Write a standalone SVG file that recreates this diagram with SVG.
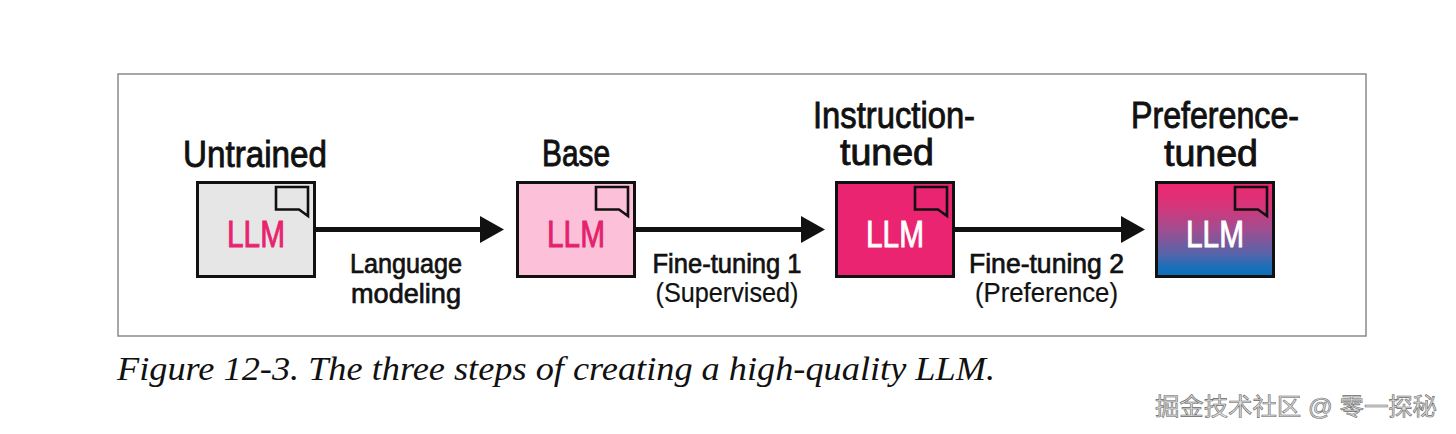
<svg xmlns="http://www.w3.org/2000/svg" width="1456" height="434" viewBox="0 0 1456 434">
  <style>
    .title { font-family: "Liberation Sans", Arial, sans-serif; font-size: 37px; fill: #111; stroke: #111; stroke-width: 0.9; text-anchor: middle; }
    .label { font-family: "Liberation Sans", Arial, sans-serif; font-size: 27px; fill: #111; stroke: #111; stroke-width: 0.7; text-anchor: middle; }
    .sub { font-family: "Liberation Sans", Arial, sans-serif; font-size: 27px; fill: #111; stroke: #111; stroke-width: 0.2; text-anchor: middle; }
    .llm { font-family: "Liberation Sans", Arial, sans-serif; font-size: 37px; text-anchor: middle; stroke-width: 0.9; }
    .box { stroke: #111; stroke-width: 3; }
    .bubble { fill: none; stroke: #111; stroke-width: 2.6; stroke-linejoin: miter; }
    .conn { stroke: #111; stroke-width: 5; fill: none; }
    .caption { font-family: "Liberation Serif", "Times New Roman", serif; font-style: italic; font-size: 34px; fill: #111; }
    .mark { font-family: "Liberation Sans", "Noto Sans CJK SC", sans-serif; font-size: 24px; fill: #dcdcdc; stroke: #6a6a6a; stroke-width: 0.6; }
  </style>
  <defs>
    <linearGradient id="grad" x1="0" y1="0" x2="0" y2="1">
      <stop offset="0" stop-color="#ef2670"/>
      <stop offset="0.25" stop-color="#d6357a"/>
      <stop offset="0.5" stop-color="#a04e90"/>
      <stop offset="0.75" stop-color="#5a63a8"/>
      <stop offset="0.9" stop-color="#1a6fb8"/>
      <stop offset="1" stop-color="#0a6fba"/>
    </linearGradient>
    <marker id="arrow" markerUnits="userSpaceOnUse" markerWidth="25" markerHeight="28" refX="12" refY="14" orient="auto">
      <path d="M0,0.5 L24,14 L0,27.5 Z" fill="#111"/>
    </marker>
    <path id="bubble" d="M80,6 H112 V35 L103,28.5 H80 Z"/>
  </defs>

  <rect x="118" y="74" width="1248" height="262" fill="#fff" stroke="#8a8a8a" stroke-width="1.5"/>

  <g id="connectors">
    <line class="conn" x1="316" y1="229.5" x2="492" y2="229.5" marker-end="url(#arrow)"/>
    <line class="conn" x1="636" y1="229.5" x2="813" y2="229.5" marker-end="url(#arrow)"/>
    <line class="conn" x1="955" y1="229.5" x2="1133" y2="229.5" marker-end="url(#arrow)"/>
    <text class="label" x="406" y="273" textLength="112" lengthAdjust="spacingAndGlyphs">Language</text>
    <text class="label" x="406" y="303" textLength="110" lengthAdjust="spacingAndGlyphs">modeling</text>
    <text class="label" x="727" y="273" textLength="149" lengthAdjust="spacingAndGlyphs">Fine-tuning 1</text>
    <text class="sub" x="727" y="302" textLength="143" lengthAdjust="spacingAndGlyphs">(Supervised)</text>
    <text class="label" x="1046.5" y="273" textLength="155" lengthAdjust="spacingAndGlyphs">Fine-tuning 2</text>
    <text class="sub" x="1046.5" y="302" textLength="143" lengthAdjust="spacingAndGlyphs">(Preference)</text>
  </g>

  <g id="untrained">
    <text class="title" x="255" y="167" textLength="144" lengthAdjust="spacingAndGlyphs">Untrained</text>
    <rect class="box" x="197.5" y="182.5" width="117" height="94" fill="#e6e6e6"/>
    <use href="#bubble" class="bubble" transform="translate(196,181)"/>
    <text class="llm" x="256" y="247" textLength="58" lengthAdjust="spacingAndGlyphs" fill="#e8236f" stroke="#e8236f">LLM</text>
  </g>

  <g id="base">
    <text class="title" x="576" y="166" textLength="68" lengthAdjust="spacingAndGlyphs">Base</text>
    <rect class="box" x="517.5" y="182.5" width="117" height="94" fill="#fcc1d9"/>
    <use href="#bubble" class="bubble" transform="translate(516,181)"/>
    <text class="llm" x="576" y="247" textLength="58" lengthAdjust="spacingAndGlyphs" fill="#e3216c" stroke="#e3216c">LLM</text>
  </g>

  <g id="instruction-tuned">
    <text class="title" x="894" y="128" textLength="162" lengthAdjust="spacingAndGlyphs">Instruction-</text>
    <text class="title" x="887" y="165" textLength="94" lengthAdjust="spacingAndGlyphs">tuned</text>
    <rect class="box" x="836.5" y="182.5" width="117" height="94" fill="#ea2470"/>
    <use href="#bubble" class="bubble" transform="translate(835,181)"/>
    <text class="llm" x="895" y="247" textLength="58" lengthAdjust="spacingAndGlyphs" fill="#fff" stroke="#fff">LLM</text>
  </g>

  <g id="preference-tuned">
    <text class="title" x="1215" y="128" textLength="168" lengthAdjust="spacingAndGlyphs">Preference-</text>
    <text class="title" x="1211" y="166" textLength="94" lengthAdjust="spacingAndGlyphs">tuned</text>
    <rect class="box" x="1156.5" y="182.5" width="117" height="94" fill="url(#grad)"/>
    <use href="#bubble" class="bubble" transform="translate(1155,181)"/>
    <text class="llm" x="1215" y="247" textLength="58" lengthAdjust="spacingAndGlyphs" fill="#fff" stroke="#fff">LLM</text>
  </g>

  <text class="caption" x="117" y="380" textLength="878" lengthAdjust="spacingAndGlyphs">Figure 12-3. The three steps of creating a high-quality LLM.</text>
  <text class="mark" x="1155" y="415" textLength="282" lengthAdjust="spacingAndGlyphs">掘金技术社区 @ 零一探秘</text>
</svg>
